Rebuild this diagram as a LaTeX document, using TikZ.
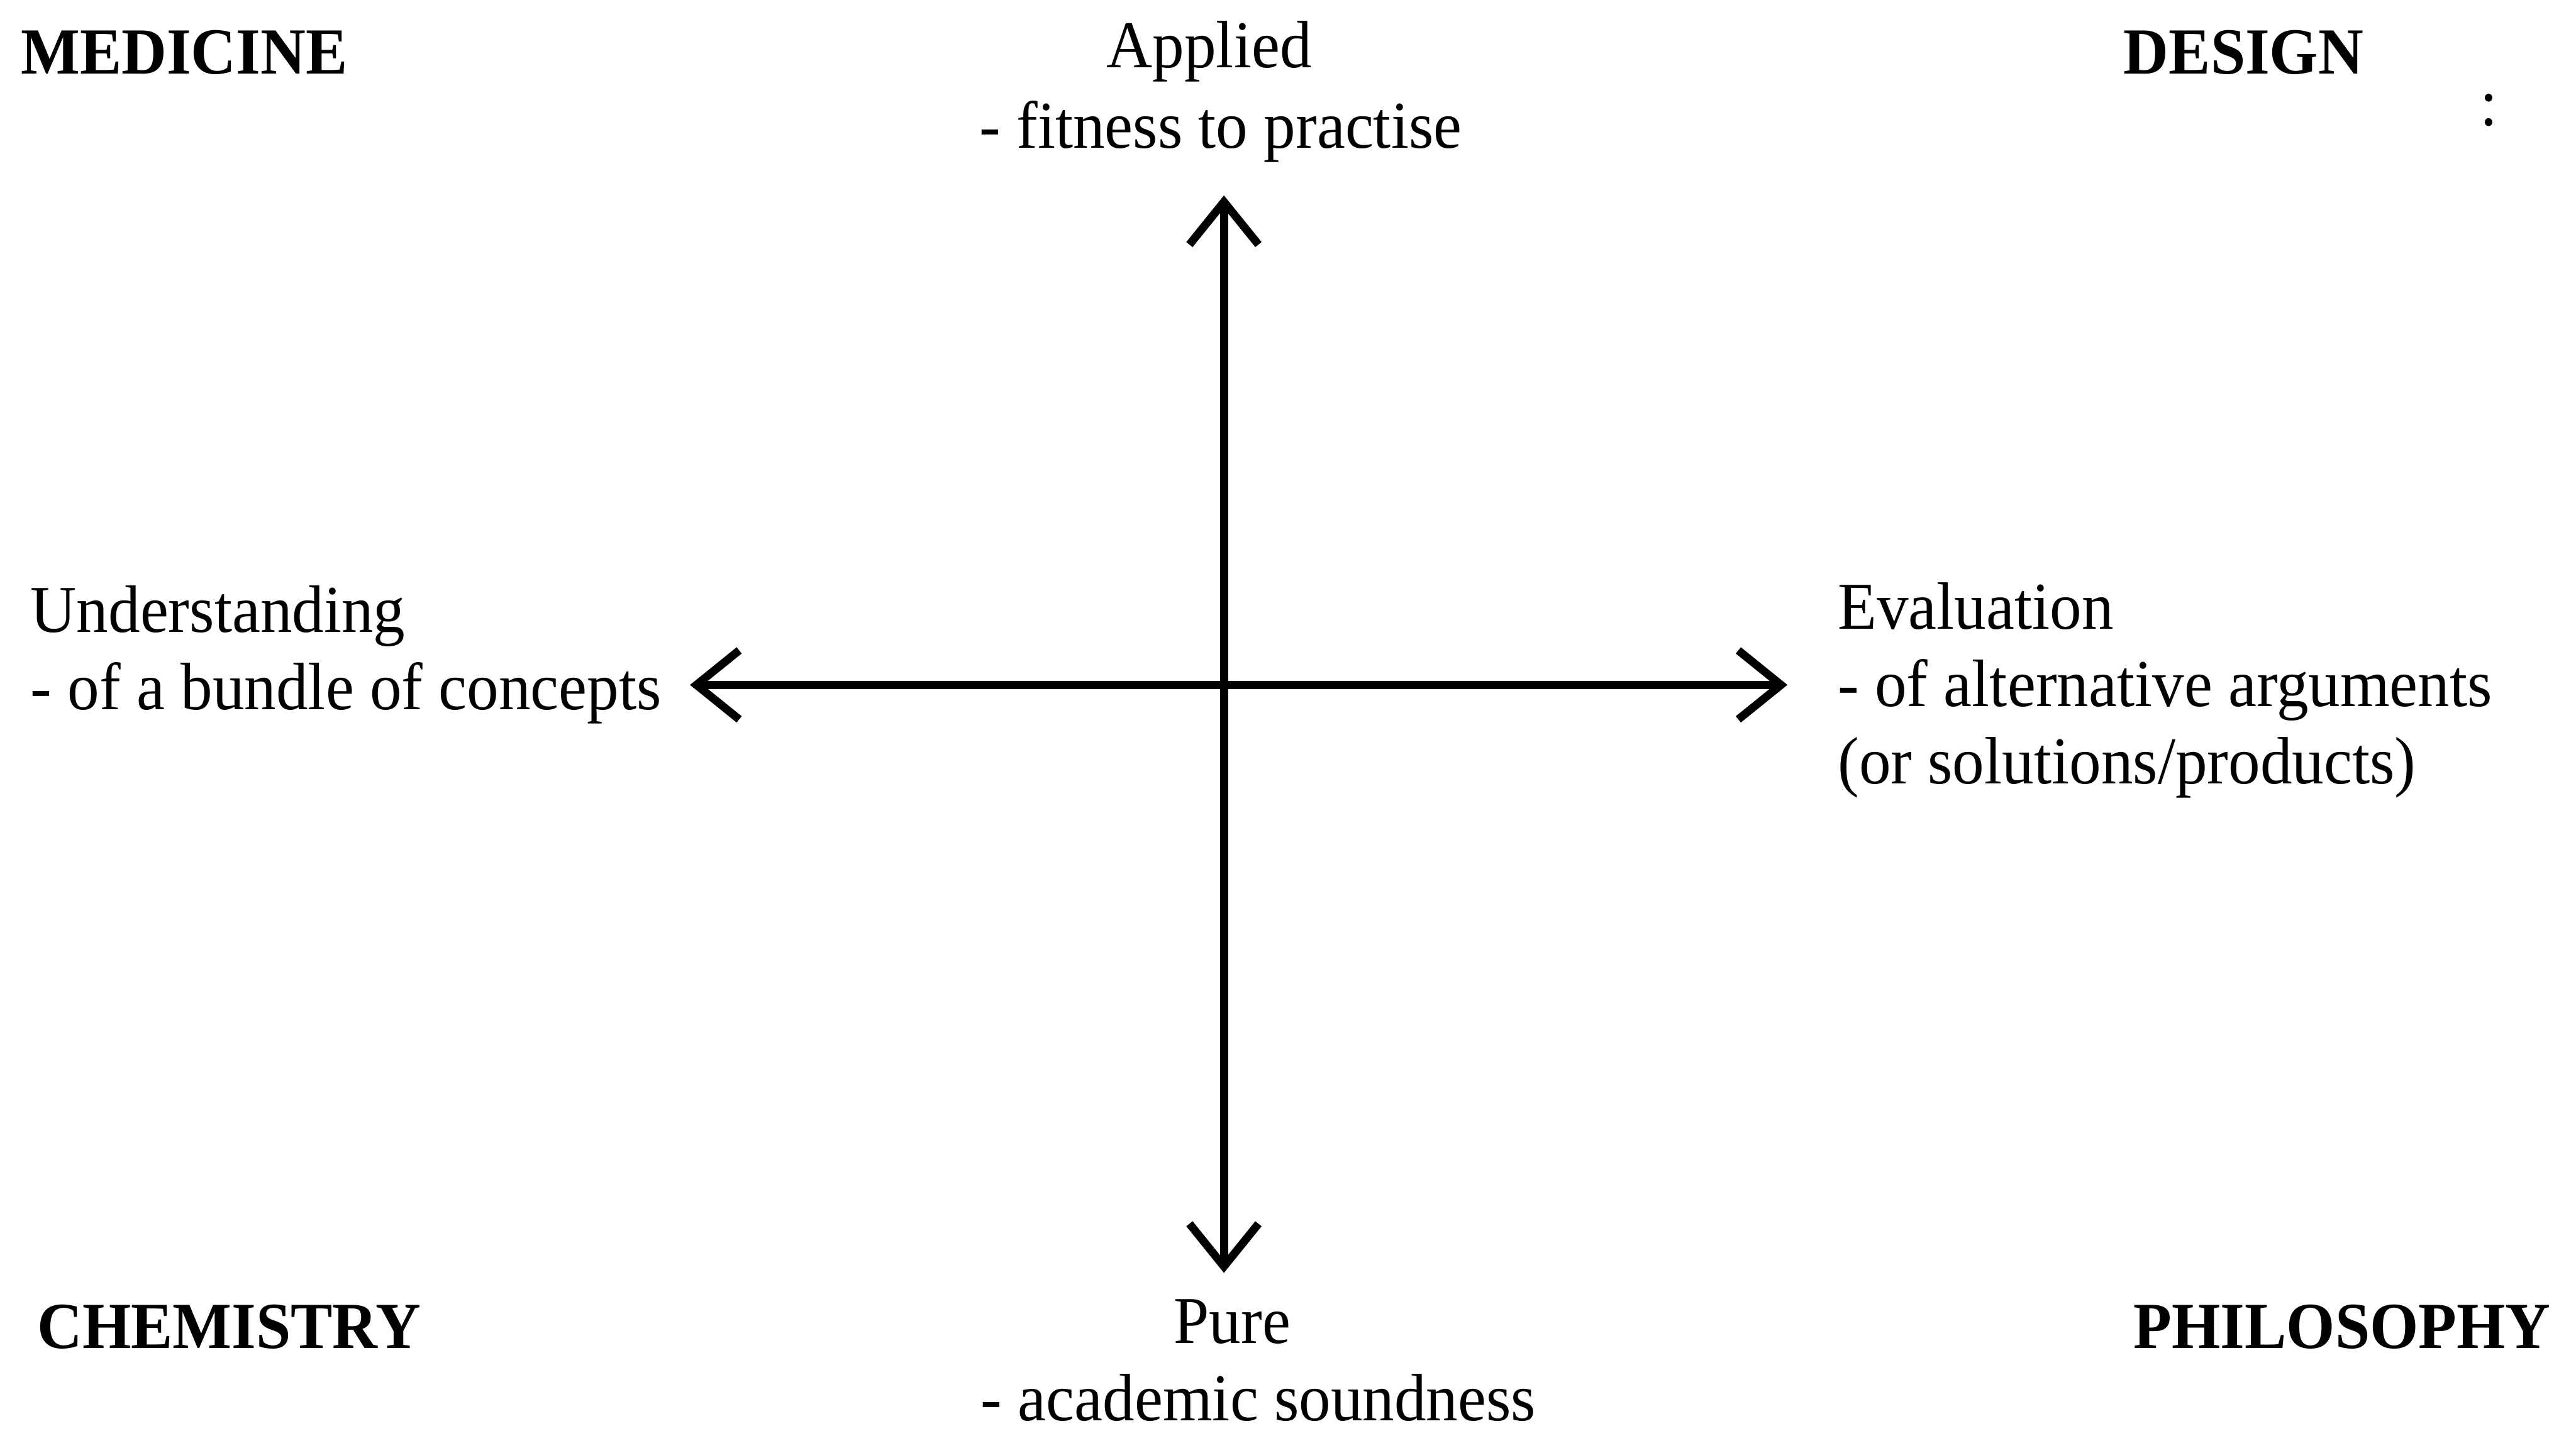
\documentclass[tikz,border=0pt]{standalone}
\usepackage{fontspec}
\setmainfont[FakeStretch=0.95]{Liberation Serif}
\usepackage{tikz}
\usetikzlibrary{arrows.meta,positioning}

\tikzset{
    lbl/.style={inner sep=0pt, font=\fontsize{11.6}{13.7}\selectfont},
    corner/.style={lbl, font=\fontsize{11.4}{13.7}\selectfont\bfseries},
    axis/.style={line width=1.4pt, {Straight Barb[length=2.6mm,width=4.2mm]}-{Straight Barb[length=2.6mm,width=4.2mm]}}
}

\begin{document}
\begin{tikzpicture}
    \useasboundingbox (0,0) rectangle (15.68,8.71);

    % Axis ends
    \coordinate (top) at (7.45,7.52);
    \coordinate (bottom) at (7.45,0.96);
    \coordinate (left) at (4.20,4.54);
    \coordinate (right) at (10.88,4.54);

    % Axes
    \draw[axis] (bottom) -- (top);
    \draw[axis] (left) -- (right);

    % Corner disciplines
    \node[corner, anchor=base west] (medicine) at (0.12,8.26) {MEDICINE};
    \node[corner, anchor=base west] (design) at (12.92,8.26) {DESIGN};
    \node[corner, anchor=base west] (chemistry) at (0.22,0.50) {CHEMISTRY};
    \node[corner, anchor=base west] (philosophy) at (12.98,0.50) {PHILOSOPHY};
    \node[lbl] (colon) at (15.15,8.04) {:};

    % Vertical axis labels
    \node[lbl, anchor=base] (applied) at (7.36,8.30) {Applied};
    \node[lbl, anchor=base] (fitness) at (7.43,7.81) {- fitness to practise};
    \node[lbl, anchor=base] (pure) at (7.50,0.53) {Pure};
    \node[lbl, anchor=base] (academic) at (7.66,0.06) {- academic soundness};

    % Horizontal axis labels
    \node[lbl, anchor=base west] (understanding) at (0.18,4.86) {Understanding};
    \node[lbl, anchor=base west] (bundle) at (0.18,4.39) {- of a bundle of concepts};
    \node[lbl, anchor=base west] (evaluation) at (11.18,4.88) {Evaluation};
    \node[lbl, anchor=base west] (arguments) at (11.18,4.41) {- of alternative arguments};
    \node[lbl, anchor=base west] (solutions) at (11.18,3.94) {(or solutions/products)};
\end{tikzpicture}
\end{document}
